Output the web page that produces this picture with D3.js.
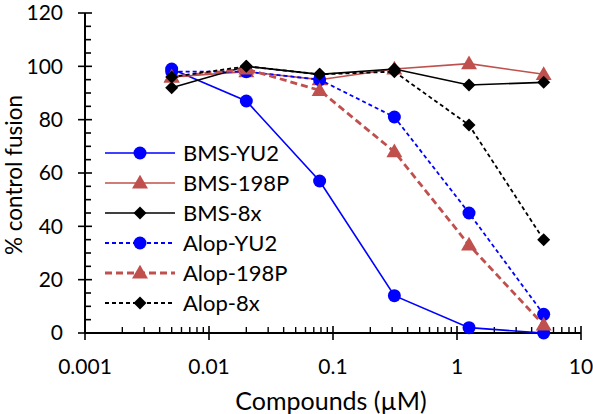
<!DOCTYPE html>
<html><head><meta charset="utf-8">
<script src="https://cdn.jsdelivr.net/npm/d3@7"></script>
<style>body{margin:0;background:#fff}svg{display:block}text{font-family:Lato,"Open Sans",sans-serif;fill:#000}</style>
</head><body><svg id="c" width="593" height="414"></svg>
<script>
const concentrations = [0.005, 0.02, 0.078, 0.3125, 1.25, 5];
const seriesNames = ["BMS-YU2","BMS-198P","BMS-8x","Alop-YU2","Alop-198P","Alop-8x"];
const bmsYU2   = [99, 87, 57, 14, 2, 0];
const bms198P  = [96, 98, 95, 99, 101, 97];
const bms8x    = [92, 100, 97, 99, 93, 94];
const alopYU2  = [98, 98, 95, 81, 45, 7];
const alop198P = [96, 99, 91, 68, 33, 3];
const alop8x   = [96, 100, 97, 98, 78, 35];
const yTicks = [0,20,40,60,80,100,120];
const xTicks = [0.001,0.01,0.1,1,10];
const xTickLabels = ["0.001","0.01","0.1","1","10"];

const styles = [
  {color:"#0000ff", dash:null, w:1.6, shape:"circle"},
  {color:"#c0504d", dash:null, w:1.6, shape:"triangle"},
  {color:"#000000", dash:null, w:1.6, shape:"diamond"},
  {color:"#0000ff", dash:"4,3", w:1.8, shape:"circle"},
  {color:"#c0504d", dash:"7,4", w:2.8, shape:"triangle"},
  {color:"#000000", dash:"4,3", w:1.8, shape:"diamond"}
];
const allValues = [bmsYU2,bms198P,bms8x,alopYU2,alop198P,alop8x];

const svg = d3.select("#c");
const x = d3.scaleLog().domain([0.001,10]).range([85,581]);
const y = d3.scaleLinear().domain([0,120]).range([333,13]);

// Axes
const ga = svg.append("g");
ga.append("line").attr("x1",85).attr("x2",85).attr("y1",y(0)).attr("y2",y(120)).attr("stroke","#000").attr("stroke-width",2);
ga.append("line").attr("x1",85).attr("x2",x(10)).attr("y1",y(0)).attr("y2",y(0)).attr("stroke","#000").attr("stroke-width",2);
d3.range(0,121,5).forEach(v=>{
  const major = v%20===0;
  ga.append("line").attr("x1",major?78:85).attr("x2",major?92:91).attr("y1",y(v)).attr("y2",y(v)).attr("stroke","#000").attr("stroke-width",1.6);
});
ga.selectAll("text.yt").data(yTicks).join("text").attr("class","yt")
  .attr("x",63).attr("y",d=>y(d)).attr("dy","0.35em").attr("text-anchor","end")
  .attr("font-size",21).text(d=>d);
xTicks.forEach(t=>{
  ga.append("line").attr("x1",x(t)).attr("x2",x(t)).attr("y1",y(0)-7).attr("y2",y(0)+7).attr("stroke","#000").attr("stroke-width",1.6);
});
for(let e=-3;e<1;e++){
  for(let m=2;m<10;m++){
    const v=m*Math.pow(10,e);
    ga.append("line").attr("x1",x(v)).attr("x2",x(v)).attr("y1",y(0)).attr("y2",y(0)-6).attr("stroke","#000").attr("stroke-width",1.4);
  }
}
ga.selectAll("text.xt").data(xTicks).join("text").attr("class","xt")
  .attr("x",d=>x(d)).attr("y",367).attr("dy","0.35em").attr("text-anchor","middle")
  .attr("font-size",21).text((d,i)=>xTickLabels[i]);
svg.append("text").attr("x",331).attr("y",401).attr("dy","0.35em").attr("text-anchor","middle").attr("font-size",25).text("Compounds (µM)");
svg.append("text").attr("transform","translate(14,175) rotate(-90)").attr("dy","0.35em").attr("text-anchor","middle").attr("font-size",22.5).text("% control fusion");

function marker(g, shape, cx, cy, color){
  if(shape==="circle") g.append("circle").attr("cx",cx).attr("cy",cy).attr("r",6.5).attr("fill",color);
  else if(shape==="triangle") g.append("path").attr("d",d3.symbol(d3.symbolTriangle,110)()).attr("transform",`translate(${cx},${cy+1})`).attr("fill",color);
  else g.append("path").attr("d",`M0,-6.5L6.5,0L0,6.5L-6.5,0Z`).attr("transform",`translate(${cx},${cy})`).attr("fill",color);
}

const line = d3.line().x((d,i)=>x(concentrations[i])).y(d=>y(d));
allValues.forEach((vals,s)=>{
  const st=styles[s];
  const g=svg.append("g");
  g.append("path").attr("d",line(vals)).attr("fill","none").attr("stroke",st.color).attr("stroke-width",st.w).attr("stroke-dasharray",st.dash);
  vals.forEach((v,i)=>marker(g,st.shape,x(concentrations[i]),y(v),st.color));
});

// Legend
const lg = svg.append("g");
seriesNames.forEach((n,s)=>{
  const st=styles[s]; const ly=153+30*s;
  lg.append("line").attr("x1",105).attr("x2",175).attr("y1",ly).attr("y2",ly).attr("stroke",st.color).attr("stroke-width",st.w).attr("stroke-dasharray",st.dash);
  marker(lg,st.shape,140,ly,st.color);
  lg.append("text").attr("x",183).attr("y",ly).attr("dy","0.35em").attr("font-size",22).text(n);
});
</script></body></html>
